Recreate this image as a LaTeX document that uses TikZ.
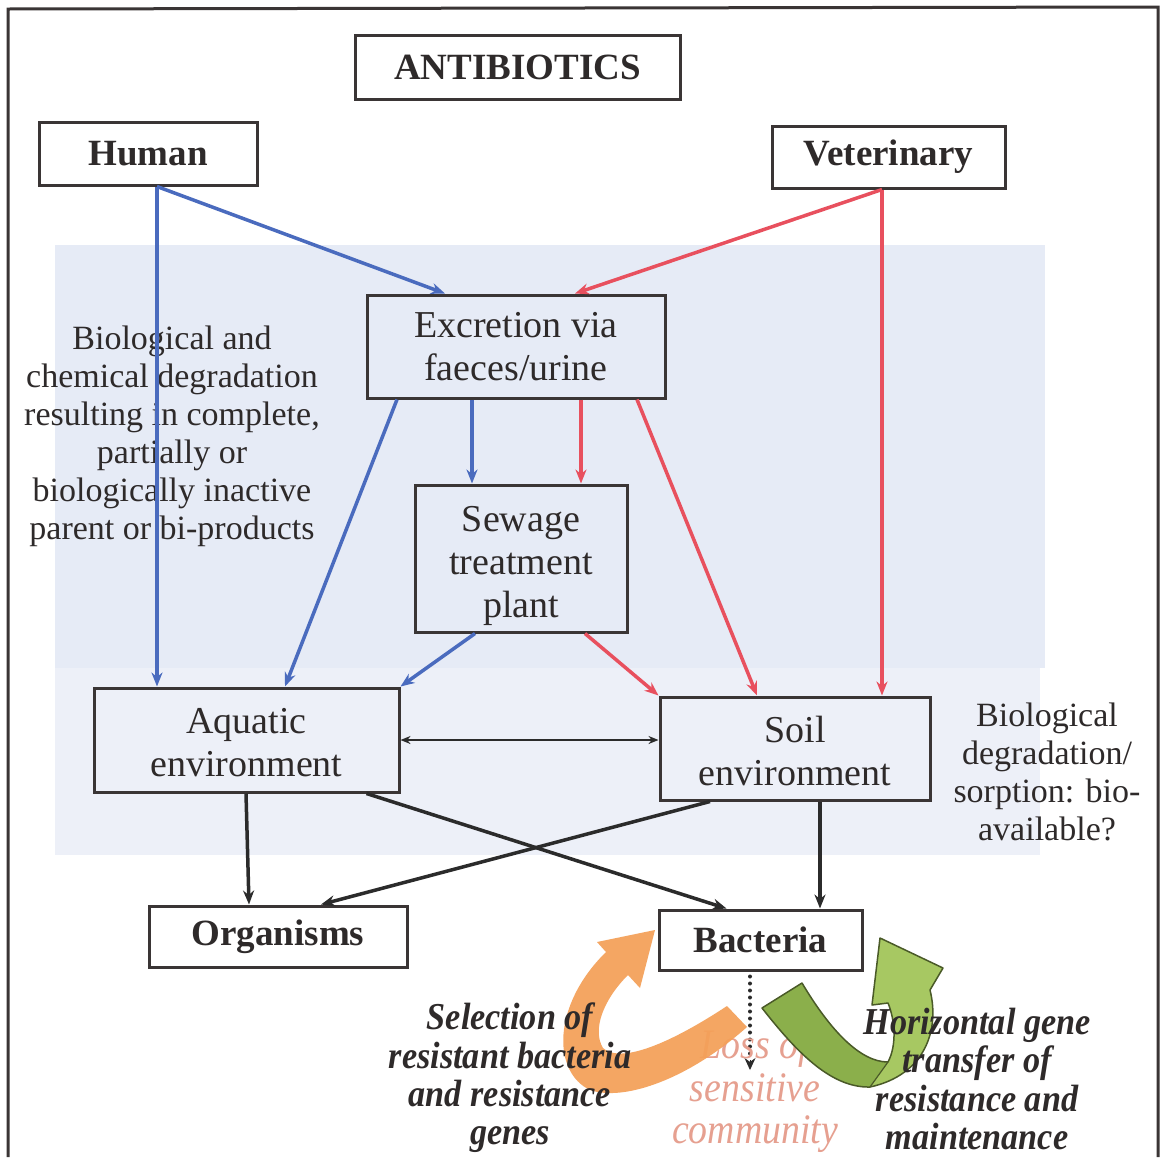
\documentclass[tikz,border=0pt]{standalone}
\usepackage{fontspec}
\setmainfont{Liberation Serif}
\newfontfamily\condfont[FakeStretch=0.9]{Liberation Serif}
\usetikzlibrary{arrows.meta,calc}
\definecolor{ink}{HTML}{2E2A2A}
\definecolor{boxc}{HTML}{3A3535}
\definecolor{bluec}{HTML}{4A6BBE}
\definecolor{redc}{HTML}{E8505E}
\definecolor{blackc}{HTML}{2B2B2B}
\definecolor{bgblue}{HTML}{E6EBF6}
\definecolor{bgblue2}{HTML}{EDF0F8}
\definecolor{orangec}{HTML}{F4A058}
\definecolor{greendark}{HTML}{8BAF4B}
\definecolor{greenlight}{HTML}{A7C862}
\definecolor{greenline}{HTML}{4A5A28}
\definecolor{pinkc}{HTML}{E6A090}
\begin{document}
\begin{tikzpicture}[x=1pt,y=-1pt,
  box/.style={draw=boxc, line width=3pt, inner sep=0pt, text=ink, align=center},
  boldbox/.style={box, font=\fontsize{37pt}{40pt}\selectfont\bfseries},
  regbox/.style={box, font=\fontsize{38pt}{43pt}\selectfont},
  bluearr/.style={draw=bluec, line width=3.5pt, -{Stealth[length=14pt,width=11pt]}},
  redarr/.style={draw=redc, line width=3.5pt, -{Stealth[length=14pt,width=11pt]}},
  blackarr/.style={draw=blackc, line width=3.5pt, -{Stealth[length=14pt,width=11pt]}},
  sidetext/.style={text=ink, align=center, font=\fontsize{34pt}{38pt}\selectfont},
  bitext/.style={text=ink, align=center, font=\condfont\fontsize{38pt}{38.3pt}\selectfont\bfseries\itshape},
  pinktext/.style={text=pinkc, align=center, font=\condfont\fontsize{42pt}{42.5pt}\selectfont\itshape}
]
\useasboundingbox (0,0) rectangle (1165,1157);
\fill[white] (0,0) rectangle (1165,1157);
% background bands
\fill[bgblue] (55,245) rectangle (1045,668);
\fill[bgblue2] (55,668) rectangle (1040,855);
% outer frame
\draw[boxc, line width=3pt] (8,1157) -- (8,9) -- (1158,7) -- (1158,1157);

% boxes
\node[boldbox, minimum width=325pt, minimum height=64pt] (anti) at (517.5,67) {ANTIBIOTICS};
\node[boldbox, minimum width=218pt, minimum height=63pt] (human) at (148,153.5) {Human};
\node[boldbox, minimum width=233pt, minimum height=62pt] (vet) at (888.5,157) {Veterinary};
\node[regbox, minimum width=298pt, minimum height=103pt] (excr) at (516,346.5) {Excretion via\\faeces/urine};
\node[regbox, minimum width=212pt, minimum height=147pt] (sew) at (521,558.5) {\rule{0pt}{40pt}Sewage\\treatment\\plant};
\node[regbox, minimum width=305pt, minimum height=104pt] (aqua) at (246.5,740) {\rule{0pt}{31pt}Aquatic\\environment};
\node[regbox, minimum width=270pt, minimum height=103pt] (soil) at (795,748.5) {\rule{0pt}{31pt}Soil\\environment};
\node[boldbox, minimum width=258pt, minimum height=61pt] (org) at (278,936.5) {Organisms};
\node[boldbox, minimum width=203pt, minimum height=60pt] (bact) at (760.5,940) {Bacteria};

% side texts
\node[sidetext] (lefttxt) at (172,436) {Biological and\\chemical degradation\\resulting in complete,\\partially or\\biologically inactive\\parent or bi-products};
\node[sidetext] (righttxt) at (1047,772) {Biological\\degradation/\\sorption: bio-\\available?};

% connectors
\draw[bluearr] ([xshift=9pt]human.south) -- ([xshift=-71pt]excr.north);
\draw[bluearr] ([xshift=9pt]human.south) -- ([xshift=-89.5pt]aqua.north);
\draw[redarr] ([xshift=-6.5pt]vet.south) -- ([xshift=59pt]excr.north);
\draw[redarr] ([xshift=-6.5pt]vet.south) -- ([xshift=87pt]soil.north);
\draw[bluearr] ([xshift=-119pt]excr.south) -- ([xshift=38.5pt]aqua.north);
\draw[bluearr] ([xshift=-44pt]excr.south) -- ([xshift=-49pt]sew.north);
\draw[redarr] ([xshift=65pt]excr.south) -- ([xshift=60pt]sew.north);
\draw[redarr] ([xshift=121pt]excr.south) -- ([xshift=-38pt]soil.north);
\draw[bluearr] ([xshift=-46pt]sew.south) -- (aqua.north east);
\draw[redarr] ([xshift=64pt]sew.south) -- (soil.north west);
\draw[draw=blackc, line width=2.5pt, {Stealth[length=10pt,width=8pt]}-{Stealth[length=10pt,width=8pt]}] (aqua.east) -- (aqua.east -| soil.west);
\draw[blackarr] ([xshift=-0.5pt]aqua.south) -- ([xshift=-29pt]org.north);
\draw[blackarr] ([xshift=-34pt]aqua.south east) -- ([xshift=-34pt]bact.north);
\draw[blackarr] ([xshift=-85pt]soil.south) -- ([xshift=43pt]org.north);
\draw[blackarr] ([xshift=25pt]soil.south) -- ([xshift=59.5pt]bact.north);
\coordinate (lossend) at (750,1070);
\draw[blackc, line width=4pt, line cap=round, dash pattern=on 0pt off 7pt] ([xshift=-10.5pt,yshift=-5pt]bact.south) -- ([yshift=12pt]lossend);
\draw[blackc, line width=1pt, -{Stealth[length=12pt,width=11pt]}] ([yshift=10pt]lossend) -- (lossend);

% pink text (behind the orange arrow)
\node[pinktext] (loss) at (755,1091) {Loss of\\sensitive\\community};

% orange curved arrow
\fill[orangec, opacity=0.93] (655,930) -- (640,988) -- (628,975)
  .. controls (603,1000) and (592,1030) .. (603,1048)
  .. controls (618,1062) and (660,1050) .. (727,1006)
  -- (747,1027)
  .. controls (690,1078) and (625,1102) .. (590,1090)
  .. controls (552,1072) and (552,1005) .. (606,952)
  -- (597,942) -- cycle;

% green curved arrow
\fill[greenlight] (762,1008) -- (802,983)
  .. controls (830,1030) and (860,1062) .. (888,1062)
  .. controls (897,1045) and (895,1020) .. (888,1003)
  -- (872,1005) -- (880,938) -- (943,968) -- (930,990)
  .. controls (940,1030) and (925,1075) .. (870,1087)
  .. controls (830,1088) and (795,1050) .. (762,1008) -- cycle;
\fill[greendark] (762,1008) -- (802,983)
  .. controls (830,1030) and (860,1062) .. (888,1062)
  -- (870,1087)
  .. controls (830,1088) and (795,1050) .. (762,1008) -- cycle;
\draw[greenline, line width=1.5pt, line join=round] (762,1008) -- (802,983)
  .. controls (830,1030) and (860,1062) .. (888,1062)
  .. controls (897,1045) and (895,1020) .. (888,1003)
  -- (872,1005) -- (880,938) -- (943,968) -- (930,990)
  .. controls (940,1030) and (925,1075) .. (870,1087)
  .. controls (830,1088) and (795,1050) .. (762,1008) -- cycle;
\draw[greenline, line width=1.2pt] (888,1062) -- (870,1087);

% bottom labels
\node[bitext] (seltxt) at (510,1078) {Selection of\\resistant bacteria\\and resistance\\genes};
\node[bitext] (hgttxt) at (977,1079) {Horizontal gene\\transfer of\\resistance and\\maintenance};
\end{tikzpicture}
\end{document}
